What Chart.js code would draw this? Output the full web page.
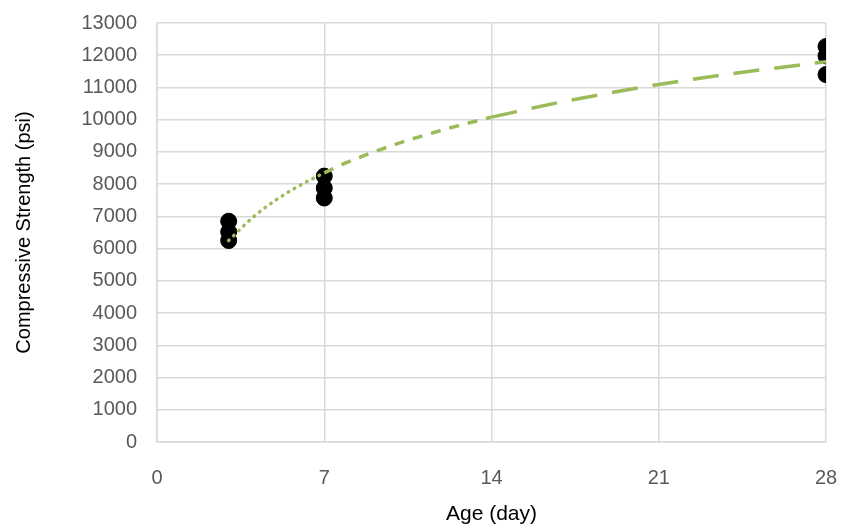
<!DOCTYPE html>
<html>
<head>
<meta charset="utf-8">
<script src="https://cdn.jsdelivr.net/npm/chart.js@4.4.0/dist/chart.umd.min.js"></script>
<style>
  html, body { margin: 0; padding: 0; background: #fff; }
  #wrap { width: 844px; height: 531px; }
</style>
</head>
<body>
<div id="wrap"><canvas id="chart"></canvas></div>
<script>
// measured specimens
const ageDays = [3, 3, 3, 7, 7, 7, 28, 28, 28];
const strengthPsi = [6850, 6520, 6250, 8250, 7880, 7570, 12270, 11980, 11400];

// trend curve, split by line style
const trendDotX = [3, 4, 5, 6, 7];
const trendDotY = [6250, 6960, 7520, 7970, 8350];
const trendShortX = [7, 8, 10, 12, 14];
const trendShortY = [8350, 8690, 9240, 9690, 10080];
const trendLongX = [14, 17, 21, 24, 28];
const trendLongY = [10080, 10560, 11090, 11420, 11800];

const xTicks = [0, 7, 14, 21, 28];

const green = "#9bbb59";
const gridCol = "#d9d9d9";
const font = "'Liberation Sans', Arial, sans-serif";

const pts = (xs, ys) => xs.map((x, i) => ({ x: x, y: ys[i] }));

const trend = (xs, ys, dash, w) => ({
  type: "line",
  data: pts(xs, ys),
  borderColor: green,
  borderWidth: w,
  borderDash: dash,
  borderCapStyle: dash[0] < 3 ? "round" : "butt",
  cubicInterpolationMode: "monotone",
  pointRadius: 0,
  fill: false,
  order: 1,
});

new Chart(document.getElementById("chart").getContext("2d"), {
  type: "scatter",
  data: {
    datasets: [
      {
        label: "Strength",
        data: pts(ageDays, strengthPsi),
        backgroundColor: "#000",
        borderColor: "#000",
        pointRadius: 8,
        order: 2,
      },
      trend(trendDotX, trendDotY, [0.5, 6.5], 3.5),
      trend(trendShortX, trendShortY, [10, 9], 3.5),
      trend(trendLongX, trendLongY, [26, 15], 3.5),
    ],
  },
  options: {
    responsive: true,
    maintainAspectRatio: false,
    animation: false,
    layout: { autoPadding: false, padding: { left: 0, top: 23, right: 18, bottom: 0 } },
    plugins: { legend: { display: false }, tooltip: { enabled: false } },
    scales: {
      x: {
        type: "linear",
        min: 0,
        max: 28,
        afterBuildTicks: (s) => { s.ticks = xTicks.map((v) => ({ value: v })); },
        afterFit: (s) => { s.height = 89; s.paddingLeft = 0; s.paddingRight = 0; },
        grid: { color: gridCol, lineWidth: 1.5, drawTicks: false },
        border: { color: gridCol, width: 1.5 },
        ticks: { color: "#595959", font: { family: font, size: 20 }, padding: 24 },
        title: {
          display: true,
          text: "Age (day)",
          color: "#000",
          font: { family: font, size: 21 },
          padding: { top: 17 },
        },
      },
      y: {
        min: 0,
        max: 13000,
        afterFit: (s) => { s.width = 157; s.paddingTop = 0; s.paddingBottom = 0; },
        grid: { color: gridCol, lineWidth: 1.5, drawTicks: false },
        border: { color: gridCol, width: 1.5 },
        ticks: {
          stepSize: 1000,
          color: "#595959",
          font: { family: font, size: 20 },
          padding: 20,
          callback: (v) => String(v),
        },
        title: {
          display: true,
          text: "Compressive Strength (psi)",
          color: "#000",
          font: { family: font, size: 20 },
          padding: { top: 12, bottom: 0 },
        },
      },
    },
  },
});
</script>
</body>
</html>
